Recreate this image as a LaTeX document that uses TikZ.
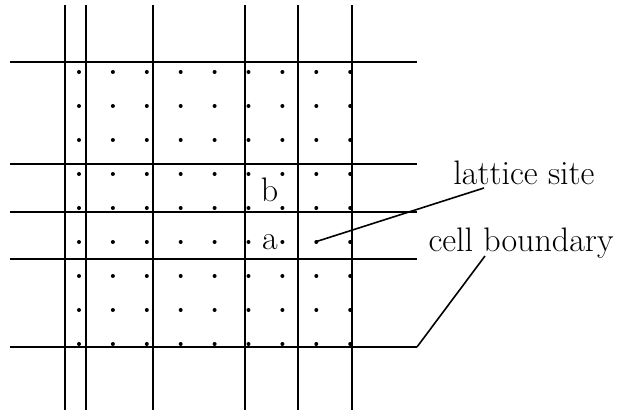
\documentclass[tikz,border=0pt]{standalone}
\tikzset{
  gridline/.style={line width=0.9pt, black},
  pointer/.style={line width=0.8pt, black},
  lbl/.style={font=\fontsize{17}{20}\selectfont, inner sep=0pt, anchor=base},
}
\begin{document}
\begin{tikzpicture}[x=0.5pt,y=-0.5pt]
\useasboundingbox (0,0) rectangle (618,415);
% cell boundaries
\foreach \x in {65,86,153,245,298,352} \draw[gridline] (\x,5) -- (\x,410);
\foreach \y in {62,164,212,259,347} \draw[gridline] (10,\y) -- (417,\y);
% lattice sites
\foreach \i in {0,...,8} \foreach \j in {0,...,8}
  \fill (79+33.9*\i, 72+34*\j) circle (2);
% labels
\node[lbl] (b) at (269.5,202) {b};
\node[lbl] (a) at (270,250) {a};
\node[lbl] (ls) at (524,185) {lattice site};
\node[lbl] (cb) at (521,252) {cell boundary};
% pointers
\coordinate (site) at (315,242);
\coordinate (lsend) at (484,188);
\coordinate (cbstart) at (485,256);
\coordinate (cbend) at (417,347);
\draw[pointer] (site) -- (lsend);
\draw[pointer] (cbstart) -- (cbend);
\end{tikzpicture}
\end{document}
